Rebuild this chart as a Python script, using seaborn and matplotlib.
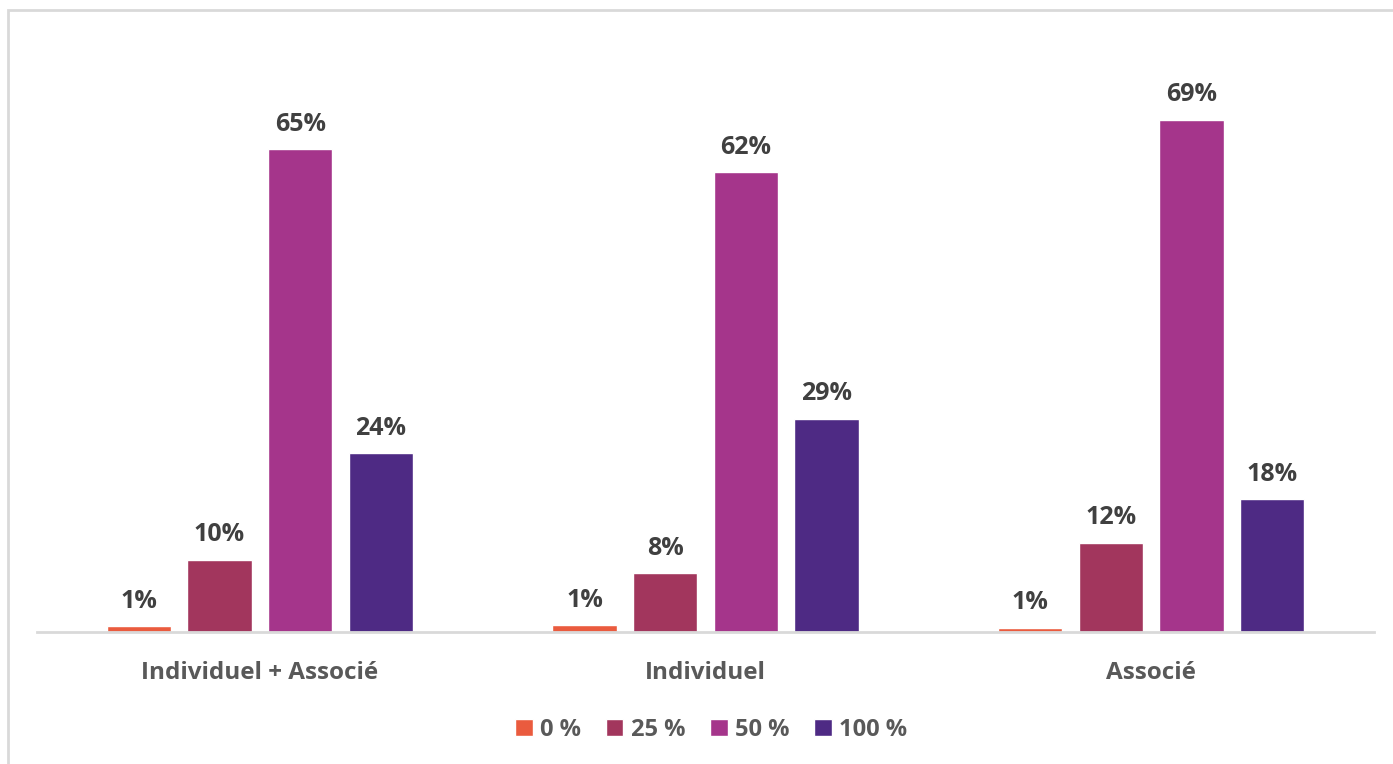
import matplotlib.pyplot as plt
import pandas as pd
import seaborn as sns
from matplotlib.patches import Rectangle

categories = ["Individuel + Associé", "Individuel", "Associé"]
parts = ["0 %", "25 %", "50 %", "100 %"]
# values (labels are rounded)
val_0 = [0.8, 0.9, 0.6]
val_25 = [9.7, 7.9, 12.0]
val_50 = [65.0, 61.9, 69.0]
val_100 = [24.1, 28.7, 17.9]
colors = ["#EA5B3E", "#A2365D", "#A5358B", "#4E2A84"]

rows = []
for part, vals in zip(parts, [val_0, val_25, val_50, val_100]):
    for cat, v in zip(categories, vals):
        rows.append({"cat": cat, "part": part, "val": v})
df = pd.DataFrame(rows)

sns.set_theme(style="white")
plt.rcParams["font.family"] = ["Open Sans", "DejaVu Sans"]

fig = plt.figure(figsize=(13.93, 7.64), dpi=100)
ax = fig.add_axes([37 / 1393, 1 - 632 / 764, (1374 - 37) / 1393, (632 - 38) / 764])

sns.barplot(data=df, x="cat", y="val", hue="part", order=categories,
            hue_order=parts, palette=colors, width=0.724, gap=0.2,
            saturation=1, ax=ax, legend=True)

for cont in ax.containers:
    labels = [f"{b.get_height():.0f}%" for b in cont]
    ax.bar_label(cont, labels=labels, padding=9, fontsize=18,
                 fontweight="bold", color="#404040")

ax.set_ylim(0, 80)
ax.set_xlim(-0.5, 2.5)
ax.set_xlabel("")
ax.set_ylabel("")
ax.set_yticks([])
ax.tick_params(axis="x", length=0, pad=21, labelsize=17.5, labelcolor="#595959")
for t in ax.get_xticklabels():
    t.set_fontweight("bold")
for s in ["top", "right", "left"]:
    ax.spines[s].set_visible(False)
ax.spines["bottom"].set_color("#D9D9D9")
ax.spines["bottom"].set_linewidth(2)

handles, lbls = ax.get_legend_handles_labels()
ax.get_legend().remove()
leg = fig.legend(handles, lbls, loc="center", ncol=4,
                 bbox_to_anchor=(711 / 1393, 1 - 730 / 764), frameon=False,
                 handlelength=0.75, handleheight=0.75, handletextpad=0.3,
                 columnspacing=1.05, prop={"size": 17, "weight": "bold"})
for t in leg.get_texts():
    t.set_color("#595959")

# chart frame (light grey border, cut by the image edge)
fig.patches.append(Rectangle((8 / 1393, -0.1), 1.2, 1 - 10 / 764 + 0.1,
                             transform=fig.transFigure, fill=False,
                             edgecolor="#D9D9D9", linewidth=2))

fig.savefig("out.png", dpi=100)
